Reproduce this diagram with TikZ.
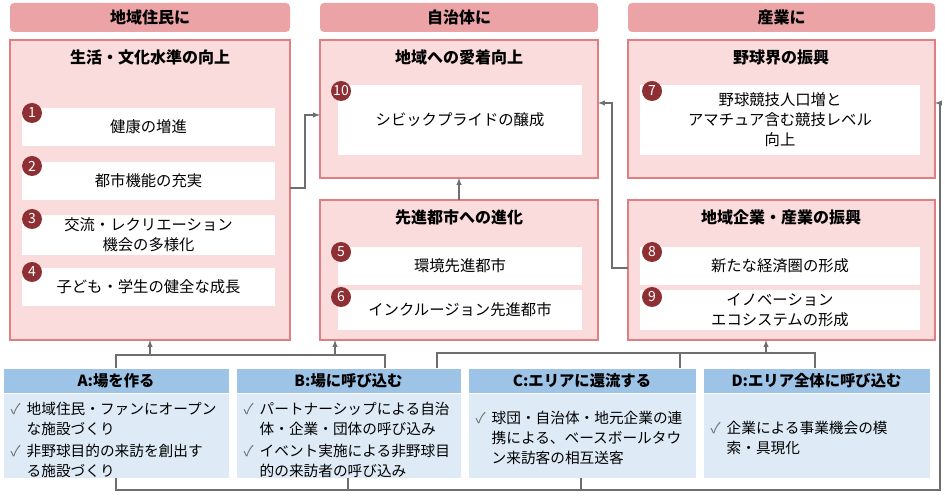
\documentclass[tikz,border=0pt]{standalone}
\usepackage{fontspec}
\setmainfont{Noto Sans CJK JP}
\usetikzlibrary{positioning}
\definecolor{hdpink}{HTML}{EBA3A5}
\definecolor{bxpink}{HTML}{FADCDD}
\definecolor{bdred}{HTML}{E07F82}
\definecolor{numred}{HTML}{8E2F33}
\definecolor{hdblue}{HTML}{9DC3E6}
\definecolor{bxblue}{HTML}{DEEBF7}
\definecolor{lngray}{HTML}{6E6E6E}
\tikzset{
  hd/.style={fill=hdpink,rounded corners=3pt,font=\fontsize{12}{14}\selectfont\bfseries},
  bx/.style={fill=bxpink,draw=bdred,line width=0.8pt},
  wb/.style={fill=white},
  wt/.style={align=center,inner sep=1pt,font=\fontsize{11.5}{15}\selectfont},
  num/.style={circle,fill=numred,text=white,inner sep=0pt,minimum size=15pt,font=\fontsize{10.5}{10}\selectfont},
  ttl/.style={font=\fontsize{12}{14}\selectfont\bfseries},
  bh/.style={fill=hdblue,draw=white,font=\fontsize{11.5}{13}\selectfont\bfseries},
  bb/.style={fill=bxblue,draw=white},
  lt/.style={anchor=north west,text width=215pt,font=\fontsize{11}{15}\selectfont},
  lk/.style={draw=lngray,line width=0.8pt},
  ar/.style={lk,-latex}
}
\begin{document}
\begin{tikzpicture}[x=0.75pt,y=-0.75pt]
	\useasboundingbox (0,0) rectangle (945,498);
	% headers
	\fill[hd] (10,3) rectangle (290,32) node[midway] (hA) {地域住民に};
	\fill[hd] (320,3) rectangle (598,32) node[midway] (hB) {自治体に};
	\fill[hd] (628,3) rectangle (935,32) node[midway] (hC) {産業に};
	% outcome boxes
	\filldraw[bx] (10,40) rectangle (290,340);
	\filldraw[bx,line width=2pt] (320,40) rectangle (598,178);
	\filldraw[bx] (320,200) rectangle (598,340);
	\filldraw[bx] (628,40) rectangle (935,178);
	\filldraw[bx] (628,200) rectangle (935,340);
	\node[ttl] (tL) at (150,57) {生活・文化水準の向上};
	\node[ttl] (tM) at (459,57) {地域への愛着向上};
	\node[ttl] (tN) at (459,217) {先進都市への進化};
	\node[ttl] (tR) at (781,57) {野球界の振興};
	\node[ttl] (tS) at (781,217) {地域企業・産業の振興};
	% inner boxes
	\fill[wb] (22,108) rectangle (275,146) node[midway,wt] (i1) {健康の増進};
	\fill[wb] (22,162) rectangle (275,200) node[midway,wt] (i2) {都市機能の充実};
	\fill[wb] (22,215) rectangle (275,255) node[midway,wt] (i3) {交流・レクリエーション\\機会の多様化};
	\fill[wb] (22,268) rectangle (275,306) node[midway,wt] (i4) {子ども・学生の健全な成長};
	\fill[wb] (338,85) rectangle (582,155) node[midway,wt] (i10) {シビックプライドの醸成};
	\fill[wb] (338,247) rectangle (582,285) node[midway,wt] (i5) {環境先進都市};
	\fill[wb] (338,290) rectangle (582,330) node[midway,wt] (i6) {インクルージョン先進都市};
	\fill[wb] (640,85) rectangle (920,155) node[midway,wt] (i7) {野球競技人口増と\\アマチュア含む競技レベル\\向上};
	\fill[wb] (640,247) rectangle (920,285) node[midway,wt] (i8) {新たな経済圏の形成};
	\fill[wb] (640,290) rectangle (920,330) node[midway,wt] (i9) {イノベーション\\エコシステムの形成};
	\node[num] (n1) at (32,113) {1};
	\node[num] (n2) at (32,166) {2};
	\node[num] (n3) at (32,219) {3};
	\node[num] (n4) at (32,272) {4};
	\node[num] (n10) at (341,91) {10};
	\node[num] (n5) at (341,252) {5};
	\node[num] (n6) at (341,297) {6};
	\node[num] (n7) at (652,91) {7};
	\node[num] (n8) at (652,252) {8};
	\node[num] (n9) at (652,297) {9};
	% measures
	\filldraw[bh] (3,368) rectangle (229,393) node[midway] (mA) {A:場を作る};
	\filldraw[bh] (236,368) rectangle (461,393) node[midway] (mB) {B:場に呼び込む};
	\filldraw[bh] (468,368) rectangle (696,393) node[midway] (mC) {C:エリアに還流する};
	\filldraw[bh] (703,368) rectangle (930,393) node[midway] (mD) {D:エリア全体に呼び込む};
	\filldraw[bb] (3,393) rectangle (229,478);
	\filldraw[bb] (236,393) rectangle (461,478);
	\filldraw[bb] (468,393) rectangle (696,478);
	\filldraw[bb] (703,393) rectangle (930,478);
	\node[lt] (lA) at (6,397) {%
		\makebox[12pt][l]{\color{lngray}✓}地域住民・ファンにオープン\\\hspace*{12pt}な施設づくり\\[2pt]
		\makebox[12pt][l]{\color{lngray}✓}非野球目的の来訪を創出す\\\hspace*{12pt}る施設づくり};
	\node[lt] (lB) at (239,397) {%
		\makebox[12pt][l]{\color{lngray}✓}パートナーシップによる自治\\\hspace*{12pt}体・企業・団体の呼び込み\\[2pt]
		\makebox[12pt][l]{\color{lngray}✓}イベント実施による非野球目\\\hspace*{12pt}的の来訪者の呼び込み};
	\node[lt] (lC) at (471,406) {%
		\makebox[12pt][l]{\color{lngray}✓}球団・自治体・地元企業の連\\\hspace*{12pt}携による、ベースボールタウ\\\hspace*{12pt}ン来訪客の相互送客};
	\node[lt] (lD) at (706,416) {%
		\makebox[12pt][l]{\color{lngray}✓}企業による事業機会の模\\\hspace*{12pt}索・具現化};
	% connectors
	\coordinate (jL) at (305,188);
	\draw[ar] (290,188) -- (jL) |- (320,115);
	\draw[ar] (459,200) -- (459,178);
	\draw[ar] (628,268) -| (612,103) -- (598,103);
	\draw[ar] (930,490) -| (940,103) -- (935,103);
	\draw[lk] (116,368) |- (385,355) -- (385,368);
	\draw[ar] (150,355) -- (150,340);
	\draw[ar] (335,355) -- (335,340);
	\draw[lk] (437,368) |- (815,353) -- (815,368);
	\draw[lk] (680,353) -- (680,368);
	\draw[ar] (766,353) -- (766,340);
	\draw[lk] (116,478) |- (930,490);
	\draw[lk] (348,478) -- (348,490);
	\draw[lk] (581,478) -- (581,490);
\end{tikzpicture}
\end{document}
